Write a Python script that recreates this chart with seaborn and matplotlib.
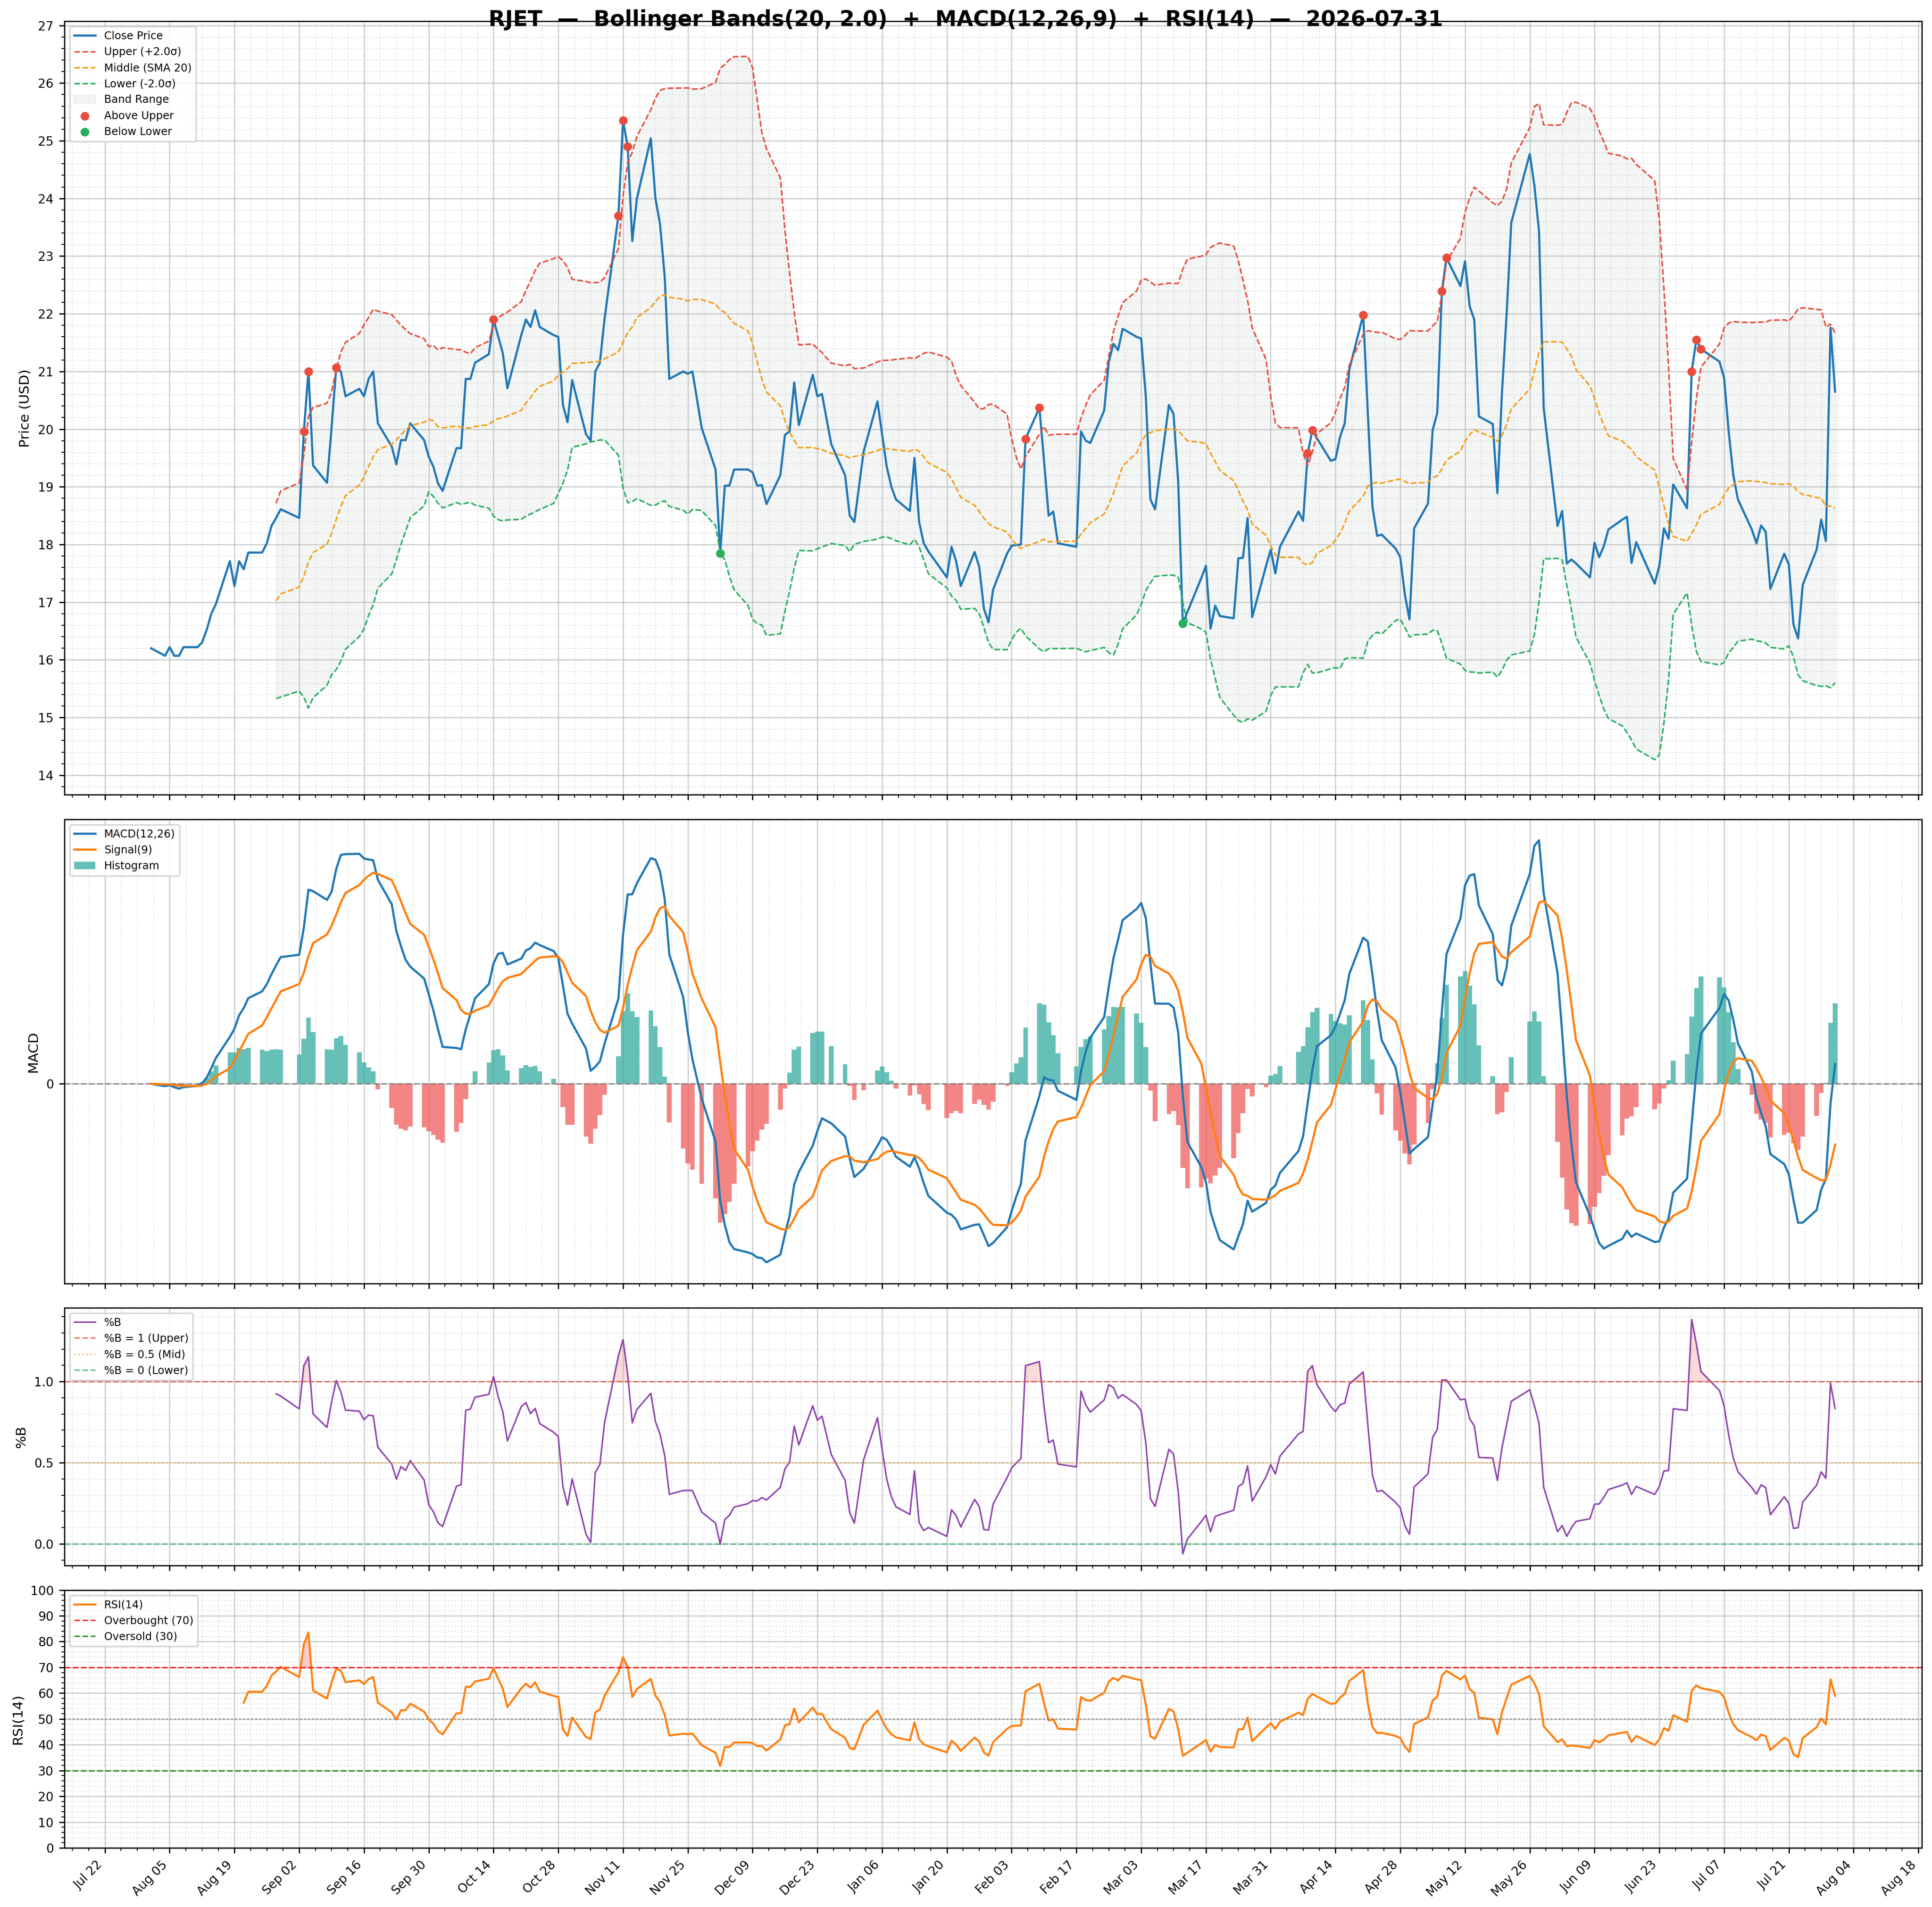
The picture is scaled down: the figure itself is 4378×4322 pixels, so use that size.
import numpy as np
import pandas as pd
import matplotlib
matplotlib.use('Agg')
import matplotlib.pyplot as plt
import matplotlib.dates as mdates
from matplotlib.ticker import AutoMinorLocator, MultipleLocator, FixedLocator
import seaborn as sns

ticker = 'RJET'
start_date = '2025-08-01'
end_date = '2026-07-31'

# market holidays (no bar on these days)
holidays = ['2025-09-01', '2025-11-27', '2025-12-25', '2026-01-01', '2026-01-19',
            '2026-02-16', '2026-04-03', '2026-05-25', '2026-06-19', '2026-07-03']

# daily closes (trading days)
close_price = [
    16.2,
    16.07, 16.22, 16.07, 16.07, 16.22,
    16.22, 16.3, 16.52, 16.8, 16.97,
    17.71, 17.28, 17.71, 17.57, 17.86,
    17.86, 18.02, 18.32, 18.46, 18.61,
    18.46, 19.96, 21.0, 19.37,
    19.07, 20.03, 21.07, 21.0, 20.57,
    20.7, 20.57, 20.87, 21.0, 20.1,
    19.7, 19.39, 19.81, 19.81, 20.1,
    19.81, 19.52, 19.35, 19.06, 18.93,
    19.67, 19.67, 20.87, 20.87, 21.15,
    21.3, 21.9, 21.61, 21.32, 20.71,
    21.63, 21.9, 21.77, 22.06, 21.77,
    21.63, 21.6, 20.42, 20.12, 20.85,
    19.91, 19.8, 21.0, 21.15, 21.91,
    23.7, 25.35, 24.9, 23.26, 24.0,
    25.04, 24.0, 23.55, 22.65, 20.87,
    21.0, 20.96, 21.0, 20.02,
    19.3, 17.85, 19.02, 19.02, 19.3,
    19.3, 19.25, 19.02, 19.03, 18.7,
    19.2, 19.9, 19.96, 20.81, 20.07,
    20.94, 20.57, 20.61, 19.74,
    19.2, 18.5, 18.39, 19.61,
    20.48, 19.91, 19.35, 19.0, 18.78,
    18.58, 19.5, 18.39, 18.02, 17.88,
    17.43, 17.96, 17.71, 17.28,
    17.87, 17.61, 16.89, 16.65, 17.22,
    17.84, 17.98, 17.99, 18.0, 19.83,
    20.37, 19.45, 18.5, 18.57, 18.02,
    17.96, 19.96, 19.8, 19.76,
    20.32, 21.17, 21.48, 21.37, 21.74,
    21.6, 21.57, 20.57, 18.78, 18.61,
    20.42, 20.26, 19.09, 16.63, 16.83,
    17.42, 17.63, 16.54, 16.94, 16.76,
    16.72, 17.76, 17.77, 18.46, 16.74,
    17.63, 17.91, 17.5, 17.96,
    18.57, 18.41, 19.58, 19.98, 19.84,
    19.45, 19.48, 19.87, 20.1, 21.04,
    21.98, 20.26, 18.65, 18.15, 18.17,
    17.93, 17.78, 17.13, 16.7, 18.28,
    18.71, 19.98, 20.28, 22.39, 22.97,
    22.48, 22.91, 22.13, 21.9, 20.22,
    20.09, 18.89, 20.65, 22.0, 23.58,
    24.77, 24.22, 23.43, 20.37,
    18.32, 18.58, 17.67, 17.74, 17.67,
    17.43, 18.03, 17.78, 17.97, 18.26,
    18.43, 18.48, 17.68, 18.04,
    17.32, 17.63, 18.28, 18.1, 19.04,
    18.63, 21.0, 21.55, 21.39,
    21.17, 20.89, 19.95, 19.2, 18.78,
    18.26, 18.02, 18.33, 18.22, 17.23,
    17.84, 17.65, 16.61, 16.37, 17.3,
    17.91, 18.43, 18.06, 21.76, 20.65,
]

bb_window, bb_k = 20, 2.0
fast, slow, sig = 12, 26, 9
rsi_n = 14

dates = pd.bdate_range(start_date, end_date, freq='C', holidays=holidays)
df = pd.DataFrame({'Close': close_price}, index=dates)

# Bollinger
df['Middle'] = df['Close'].rolling(bb_window).mean()
sd = df['Close'].rolling(bb_window).std()
df['Upper'] = df['Middle'] + bb_k * sd
df['Lower'] = df['Middle'] - bb_k * sd
df['PctB'] = (df['Close'] - df['Lower']) / (df['Upper'] - df['Lower'])

# MACD
ema_f = df['Close'].ewm(span=fast, adjust=False).mean()
ema_s = df['Close'].ewm(span=slow, adjust=False).mean()
df['MACD'] = ema_f - ema_s
df['Signal'] = df['MACD'].ewm(span=sig, adjust=False).mean()
df['Hist'] = df['MACD'] - df['Signal']

# RSI
delta = df['Close'].diff()
gain = delta.clip(lower=0).ewm(alpha=1 / rsi_n, adjust=False, min_periods=rsi_n).mean()
loss = (-delta.clip(upper=0)).ewm(alpha=1 / rsi_n, adjust=False, min_periods=rsi_n).mean()
df['RSI'] = 100 - 100 / (1 + gain / loss)

above = df[df['Close'] > df['Upper']]
below = df[df['Close'] < df['Lower']]

DPI = 250
fig, axes = plt.subplots(4, 1, figsize=(4378 / DPI, 4322 / DPI), dpi=DPI, sharex=True,
                         gridspec_kw={'height_ratios': [3, 1.8, 1, 1]})
fig.subplots_adjust(left=146 / 4378, right=4355 / 4378, top=1 - 48 / 4322,
                    bottom=1 - 4188 / 4322, hspace=0.0555)
ax1, ax2, ax3, ax4 = axes

# --- price + bands
sns.lineplot(x=df.index, y=df['Close'], ax=ax1, color='#1f77b4', lw=1.4, label='Close Price')
ax1.plot(df.index, df['Upper'], color='#e74c3c', ls='--', lw=1.0, label=f'Upper (+{bb_k}σ)')
ax1.plot(df.index, df['Middle'], color='#f39c12', ls='--', lw=1.0, label=f'Middle (SMA {bb_window})')
ax1.plot(df.index, df['Lower'], color='#27ae60', ls='--', lw=1.0, label=f'Lower (-{bb_k}σ)')
ax1.fill_between(df.index, df['Lower'], df['Upper'], color='#95a5a6', alpha=0.1, label='Band Range')
ax1.scatter(above.index, above['Close'], color='#e74c3c', s=22, zorder=5, label='Above Upper')
ax1.scatter(below.index, below['Close'], color='#27ae60', s=22, zorder=5, label='Below Lower')
ax1.set_ylabel('Price (USD)', fontsize=9)
ax1.yaxis.set_major_locator(MultipleLocator(1))
ax1.yaxis.set_minor_locator(AutoMinorLocator())

# --- MACD
hist_colors = np.where(df['Hist'] >= 0, '#26a69a', '#ef5350')
ax2.bar(df.index, df['Hist'], width=1.0, color=hist_colors, alpha=0.7, label='Histogram', zorder=2)
sns.lineplot(x=df.index, y=df['MACD'], ax=ax2, color='#1f77b4', lw=1.4, label=f'MACD({fast},{slow})', zorder=3)
sns.lineplot(x=df.index, y=df['Signal'], ax=ax2, color='#ff7f0e', lw=1.4, label=f'Signal({sig})', zorder=3)
ax2.axhline(0, color='gray', ls='--', lw=1.0, alpha=0.8)
ax2.set_ylabel('MACD', fontsize=9)
ax2.set_yticks([0])

# --- %B
sns.lineplot(x=df.index, y=df['PctB'], ax=ax3, color='#8e44ad', lw=1.0, label='%B')
ax3.axhline(1.0, color='#e74c3c', ls='--', lw=1.0, alpha=0.7, label='%B = 1 (Upper)')
ax3.axhline(0.5, color='#f39c12', ls=':', lw=1.0, alpha=0.6, label='%B = 0.5 (Mid)')
ax3.axhline(0.0, color='#27ae60', ls='--', lw=1.0, alpha=0.7, label='%B = 0 (Lower)')
ax3.fill_between(df.index, df['PctB'], 1.0, where=df['PctB'] > 1.0, interpolate=True,
                 color='#e74c3c', alpha=0.2)
ax3.fill_between(df.index, df['PctB'], 0.0, where=df['PctB'] < 0.0, interpolate=True,
                 color='#27ae60', alpha=0.2)
ax3.set_ylabel('%B', fontsize=9)
ax3.yaxis.set_major_locator(MultipleLocator(0.5))
ax3.yaxis.set_minor_locator(AutoMinorLocator())

# --- RSI
sns.lineplot(x=df.index, y=df['RSI'], ax=ax4, color='#ff7f0e', lw=1.3, label=f'RSI({rsi_n})')
ax4.axhline(70, color='red', ls='--', lw=1.0, alpha=0.8, label='Overbought (70)')
ax4.axhline(30, color='green', ls='--', lw=1.0, alpha=0.8, label='Oversold (30)')
ax4.axhline(50, color='gray', ls=':', lw=1.0, alpha=0.8)
ax4.fill_between(df.index, df['RSI'], 70, where=df['RSI'] > 70, interpolate=True, color='red', alpha=0.2)
ax4.fill_between(df.index, df['RSI'], 30, where=df['RSI'] < 30, interpolate=True, color='green', alpha=0.2)
ax4.set_ylim(0, 100)
ax4.set_ylabel(f'RSI({rsi_n})', fontsize=9)
ax4.yaxis.set_major_locator(MultipleLocator(10))
ax4.yaxis.set_minor_locator(AutoMinorLocator())

tick_dates = pd.date_range('2025-07-22', '2026-08-18', freq='14D')
for ax in axes:
    ax.set_xlabel('')
    ax.grid(True, which='major', color='#b0b0b0', alpha=0.6, lw=0.8)
    if ax is ax2:
        ax.grid(True, which='minor', axis='x', ls=':', alpha=0.35)
    else:
        ax.grid(True, which='minor', ls=':', alpha=0.35)
    ax.legend(loc='upper left', fontsize=7, framealpha=0.8)
    ax.tick_params(axis='y', labelsize=8)
    ax.xaxis.set_major_locator(FixedLocator(mdates.date2num(tick_dates)))
    ax.xaxis.set_minor_locator(AutoMinorLocator(4))

ax4.xaxis.set_major_formatter(mdates.DateFormatter('%b %d'))
plt.setp(ax4.get_xticklabels(), rotation=45, ha='right', fontsize=8)

title = (f'{ticker}  —  Bollinger Bands({bb_window}, {bb_k})  +  MACD({fast},{slow},{sig})'
         f'  +  RSI({rsi_n})  —  {end_date}')
fig.text(0.5, 1 - 59 / 4322, title, ha='center', va='baseline', fontsize=14, fontweight='bold')

fig.savefig('out.png', dpi=DPI)
